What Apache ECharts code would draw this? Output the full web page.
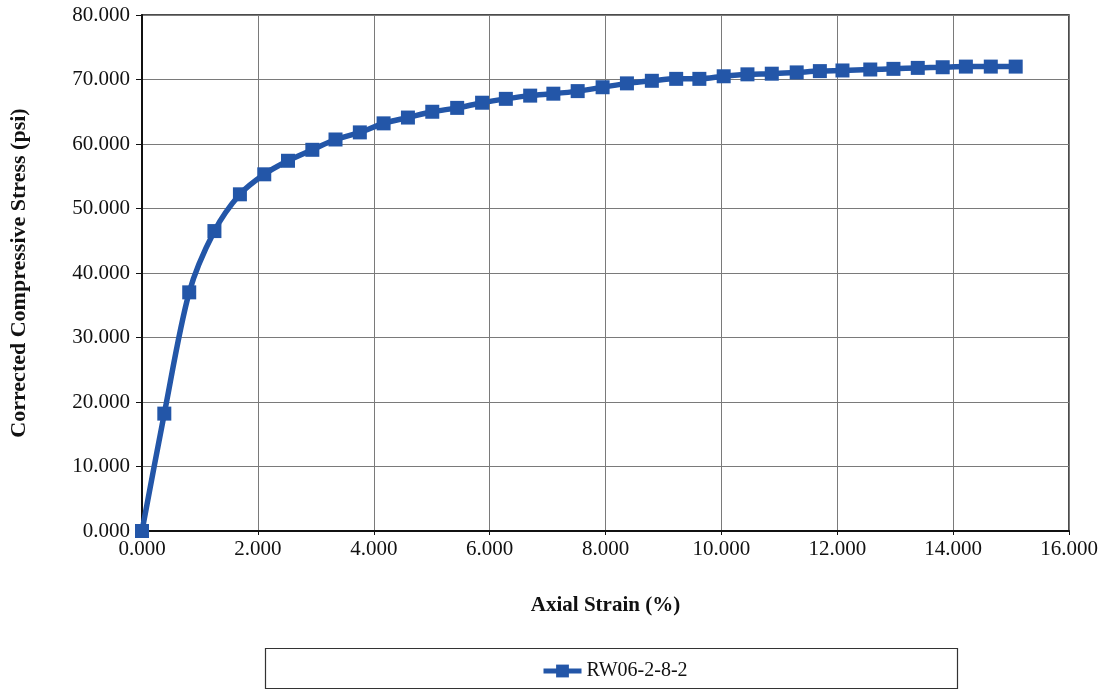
<!DOCTYPE html>
<html>
<head>
<meta charset="utf-8">
<script src="https://cdn.jsdelivr.net/npm/echarts@6/dist/echarts.min.js"></script>
<style>
  html, body { margin: 0; padding: 0; background: #fff; }
  #stressChart { width: 1102px; height: 691px; }
</style>
</head>
<body>
<div id="stressChart"></div>
<script>
// axial strain (%)
const strain = [
  0, 0.385, 0.815, 1.25, 1.69, 2.11, 2.52, 2.94, 3.34, 3.76,
  4.17, 4.59, 5.01, 5.44, 5.87, 6.28, 6.70, 7.10, 7.52, 7.95,
  8.37, 8.80, 9.22, 9.62, 10.04, 10.45, 10.87, 11.30, 11.70, 12.09,
  12.57, 12.97, 13.39, 13.82, 14.22, 14.65, 15.08
];
// corrected compressive stress (psi)
const stress = [
  0, 18.2, 37.0, 46.5, 52.2, 55.3, 57.4, 59.1, 60.7, 61.8,
  63.2, 64.1, 65.0, 65.6, 66.4, 67.0, 67.5, 67.8, 68.2, 68.8,
  69.4, 69.8, 70.1, 70.1, 70.5, 70.8, 70.9, 71.1, 71.3, 71.4,
  71.55, 71.65, 71.8, 71.9, 72.0, 72.0, 72.0
];
const seriesName = 'RW06-2-8-2';

const blue = '#2356a8';
const font = '"Liberation Serif", "DejaVu Serif", serif';

var stressChart = echarts.init(document.getElementById('stressChart'));

option = {
  animation: false,
  textStyle: { fontFamily: font },
  grid: {
    left: 142,
    right: 33,
    top: 15,
    bottom: 160,
    show: true,
    borderColor: '#111',
    borderWidth: 1.5
  },
  xAxis: {
    type: 'value',
    min: 0,
    max: 16,
    interval: 2,
    name: 'Axial Strain (%)',
    nameLocation: 'middle',
    nameGap: 64,
    nameTextStyle: { fontFamily: font, fontSize: 21, fontWeight: 'bold', color: '#111' },
    axisLine: { lineStyle: { color: '#111', width: 2 } },
    axisTick: { show: true, length: 4, lineStyle: { color: '#111' } },
    axisLabel: {
      fontFamily: font, fontSize: 21, color: '#111', margin: 8,
      formatter: function (v) { return v.toFixed(3); }
    },
    splitLine: { show: true, lineStyle: { color: '#7a7a7a', width: 1 } }
  },
  yAxis: {
    type: 'value',
    min: 0,
    max: 80,
    interval: 10,
    name: 'Corrected Compressive Stress (psi)',
    nameLocation: 'middle',
    nameGap: 112,
    nameTextStyle: { fontFamily: font, fontSize: 22, fontWeight: 'bold', color: '#111' },
    axisLine: { show: true, lineStyle: { color: '#111', width: 2 } },
    axisTick: { show: true, length: 6, lineStyle: { color: '#111' } },
    axisLabel: {
      fontFamily: font, fontSize: 21, color: '#111', margin: 12,
      formatter: function (v) { return v.toFixed(3); }
    },
    splitLine: { show: true, lineStyle: { color: '#7a7a7a', width: 1 } }
  },
  legend: {
    left: 536,
    top: 656,
    itemWidth: 38,
    itemHeight: 16,
    itemGap: 4,
    lineStyle: { width: 5 },
    textStyle: { fontFamily: font, fontSize: 20, color: '#111' },
    data: [seriesName]
  },
  graphic: [{
    type: 'rect',
    shape: { x: 265.5, y: 648.5, width: 692, height: 40 },
    style: { fill: 'none', stroke: '#333', lineWidth: 1.2 },
    silent: true,
    z: -1
  }],
  series: [{
    type: 'line',
    name: seriesName,
    data: strain.map(function (s, i) { return [s, stress[i]]; }),
    smooth: 0.3,
    symbol: 'rect',
    symbolSize: 14,
    color: blue,
    lineStyle: { color: blue, width: 5.5 },
    itemStyle: { color: blue }
  }]
};
stressChart.setOption(option);
</script>
</body>
</html>
